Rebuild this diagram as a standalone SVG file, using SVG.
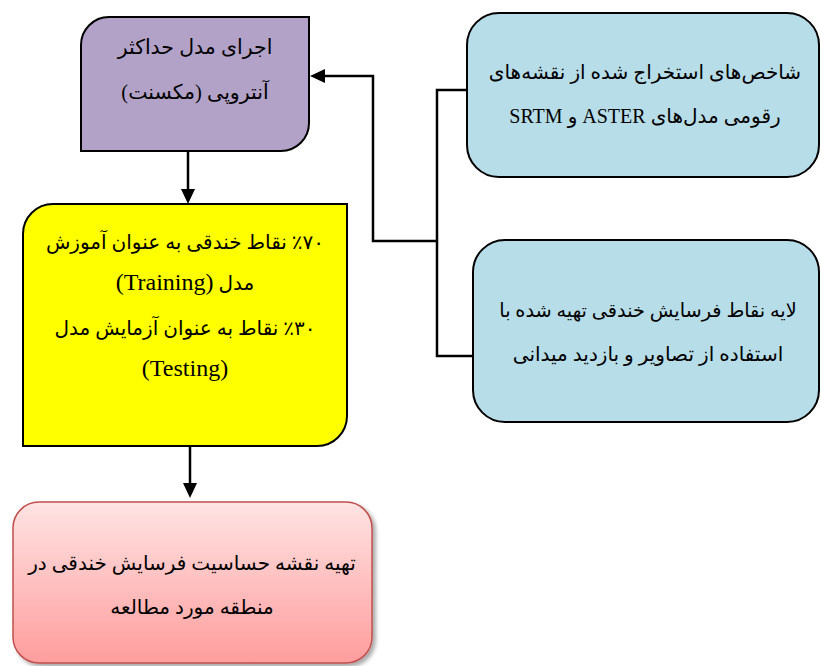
<svg xmlns="http://www.w3.org/2000/svg" width="821" height="666" viewBox="0 0 821 666">
<defs>
<linearGradient id="pinkGrad" x1="0" y1="0" x2="0" y2="1">
<stop offset="0" stop-color="#ffe3e3"/>
<stop offset="1" stop-color="#ff9d9d"/>
</linearGradient>
<filter id="shadow" x="-5%" y="-5%" width="115%" height="115%">
<feGaussianBlur in="SourceAlpha" stdDeviation="2"/>
<feOffset dx="3" dy="3" result="b"/>
<feComponentTransfer><feFuncA type="linear" slope="0.35"/></feComponentTransfer>
<feMerge><feMergeNode/><feMergeNode in="SourceGraphic"/></feMerge>
</filter>
</defs>
<style>
.box{stroke:#000;stroke-width:2}
.t{font-family:"Liberation Serif","DejaVu Serif","DejaVu Sans",serif;fill:#000;text-anchor:middle}
.fa{direction:rtl;unicode-bidi:embed}
.lat{font-family:"Liberation Serif",serif}
.conn{fill:none;stroke:#000;stroke-width:2.5}
.head{fill:#000;stroke:none}
</style>
<rect width="821" height="666" fill="#fff"/>
<g id="connectors">
<path class="conn" d="M188,151 L188,192"/>
<polygon class="head" points="181,189 195,189 188,204"/>
<path class="conn" d="M190,446 L190,486"/>
<polygon class="head" points="183,483 197,483 190,498"/>
<path class="conn" d="M467,90 L437,90 L437,356 L473,356"/>
<path class="conn" d="M437,241 L373,241 L373,76 L322,76"/>
<polygon class="head" points="325,69 325,83 310,76"/>
</g>
<g id="maxent">
<path class="box" fill="#b3a2c7" d="M81,151 L81,45 A28,28 0 0 1 109,17 L309,17 L309,123 A28,28 0 0 1 281,151 Z"/>
<text class="t fa" x="195" y="54" font-size="20.5">اجرای مدل حداکثر</text>
<text class="t fa" x="195" y="99" font-size="20.5">آنتروپی (مکسنت)</text>
</g>
<g id="points">
<path class="box" fill="#ffff00" d="M23,446 L23,234 A30,30 0 0 1 53,204 L347,204 L347,416 A30,30 0 0 1 317,446 Z"/>
<text class="t fa" x="185" y="249" font-size="20">٪۷۰ نقاط خندقی به عنوان آموزش</text>
<text class="t fa" x="185" y="290" font-size="20">مدل <tspan class="lat" font-size="24">(Training)</tspan></text>
<text class="t fa" x="185" y="335" font-size="20">٪۳۰ نقاط به عنوان آزمایش مدل</text>
<text class="t lat" x="185" y="376" font-size="24">(Testing)</text>
</g>
<g id="map">
<rect x="13" y="502" width="359" height="161" rx="26" ry="26" fill="url(#pinkGrad)" stroke="#c0504d" stroke-width="1.5" filter="url(#shadow)"/>
<text class="t fa" x="192" y="570" font-size="20">تهیه نقشه حساسیت فرسایش خندقی در</text>
<text class="t fa" x="192" y="614" font-size="20">منطقه مورد مطالعه</text>
</g>
<g id="indices">
<rect class="box" x="467" y="13" width="352" height="164" rx="32" ry="32" fill="#b7dde8"/>
<text class="t fa" x="645" y="79" font-size="20">شاخص‌های استخراج شده از نقشه‌های</text>
<text class="t fa" x="645" y="123" font-size="20">رقومی مدل‌های <tspan class="lat">ASTER</tspan> و <tspan class="lat">SRTM</tspan></text>
</g>
<g id="gullylayer">
<rect class="box" x="473" y="240" width="346" height="182" rx="32" ry="32" fill="#b7dde8"/>
<text class="t fa" x="648" y="317" font-size="19.3">لایه نقاط فرسایش خندقی تهیه شده با</text>
<text class="t fa" x="648" y="361" font-size="20">استفاده از تصاویر و بازدید میدانی</text>
</g>
</svg>
